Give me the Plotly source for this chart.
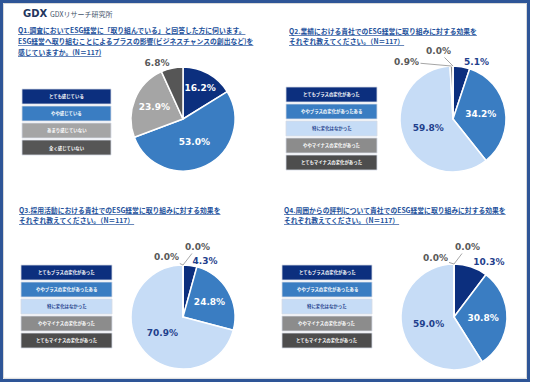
import math
import plotly.graph_objects as go

W, H = 536, 382

# ---------------- data ----------------
q1_labels = ["とても感じている", "やや感じている", "あまり感じていない", "全く感じていない"]
q1_values = [16.2, 53.0, 23.9, 6.8]

effect_labels = ["とてもプラスの変化があった", "ややプラスの変化があったある", "特に変化はなかった",
                 "ややマイナスの変化があった", "とてもマイナスの変化があった"]
q2_values = [5.1, 34.2, 59.8, 0.9, 0.0]
q3_values = [4.3, 24.8, 70.9, 0.0, 0.0]
q4_values = [10.3, 30.8, 59.0, 0.0, 0.0]

q1_title = ["Q1.調査においてESG経営に「取り組んでいる」と回答した方に伺います。",
            "ESG経営へ取り組むことによるプラスの影響(ビジネスチャンスの創出など)を",
            "感じていますか。(N＝117)"]
q2_title = ["Q2.業績における貴社でのESG経営に取り組みに対する効果を",
            "それぞれ教えてください。（N＝117）"]
q3_title = ["Q3.採用活動における貴社でのESG経営に取り組みに対する効果を",
            "それぞれ教えてください。（N＝117）"]
q4_title = ["Q4.周囲からの評判について貴社でのESG経営に取り組みに対する効果を",
            "それぞれ教えてください。（N＝117）"]

# ---------------- styles ----------------
NAVY = "#0c2f7e"
BLUE = "#3a7dc2"
LIGHT = "#c6dcf6"
GRAY_A = "#a5a5a5"
GRAY_B = "#8c8c8c"
DARK = "#565656"
TXT_NAVY = "#1f3f8c"
TXT_GRAY = "#595959"
TITLE_C = "#22509b"
FRAME = "#2e5597"

q1_colors = [NAVY, BLUE, GRAY_A, DARK]
eff_colors = [NAVY, BLUE, LIGHT, GRAY_B, "#4d4d4d"]

LABEL_FONT = "DejaVu Sans"
JP_FONT = "Noto Sans CJK JP"


def px(x):
    return x / W


def py(y):
    return 1 - y / H


panels = [
    dict(labels=q1_labels, values=q1_values, colors=q1_colors, title=q1_title,
         cx=183, cy=119, r=52, tx=16, ty=[30, 41, 52],
         lx=22, lw=89, ly=89, offs={}),
    dict(labels=effect_labels, values=q2_values, colors=eff_colors, title=q2_title,
         cx=453, cy=119, r=53, tx=287, ty=[31, 41],
         lx=286, lw=91, ly=87, offs={3: (-45, -4), 4: (-15, -15)}),
    dict(labels=effect_labels, values=q3_values, colors=eff_colors, title=q3_title,
         cx=183, cy=317, r=52, tx=17, ty=[210, 220],
         lx=21, lw=91, ly=265, offs={3: (-17, -8), 4: (14, -18)}),
    dict(labels=effect_labels, values=q4_values, colors=eff_colors, title=q4_title,
         cx=454, cy=317, r=53, tx=282, ty=[210, 220],
         lx=282, lw=90, ly=265, offs={3: (-19, -6), 4: (13, -17)}),
]

fig = go.Figure()
shapes = []
annotations = []


def text_color_for(col, inside):
    if inside:
        return TXT_NAVY if col == LIGHT else "white"
    return TXT_NAVY if col == NAVY else TXT_GRAY


for p in panels:
    vals = p["values"]
    cols = p["colors"]
    positions, tcolors = [], []
    for v, c in zip(vals, cols):
        if v < 1:
            positions.append("none")
            tcolors.append(TXT_GRAY)
        elif v < 11:
            positions.append("outside")
            tcolors.append(text_color_for(c, False))
        else:
            positions.append("inside")
            tcolors.append(text_color_for(c, True))
    cx, cy, r = p["cx"], p["cy"], p["r"]
    fig.add_trace(go.Pie(
        labels=p["labels"], values=vals, sort=False, direction="clockwise", rotation=0,
        marker=dict(colors=cols, line=dict(color="white", width=1.5)),
        texttemplate="%{value:.1f}%", textposition=positions,
        insidetextorientation="horizontal",
        textfont=dict(family=LABEL_FONT, size=9, color=tcolors, weight="bold"),
        domain=dict(x=[px(cx - r), px(cx + r)], y=[py(cy + r), py(cy - r)]),
        showlegend=False, hoverinfo="label+value",
    ))
    # labels for tiny slices with leader lines
    total = sum(vals)
    cum = 0
    for i, v in enumerate(vals):
        mid = cum + v / 2
        cum += v
        if v < 1:
            th = 2 * math.pi * mid / total
            ex = cx + r * math.sin(th)
            ey = cy - r * math.cos(th)
            ax, ay = p["offs"].get(i, (-15, -15))
            annotations.append(dict(
                x=px(ex), y=py(ey), xref="paper", yref="paper",
                text=f"{v:.1f}%", showarrow=True, arrowhead=0, arrowwidth=1,
                arrowcolor="#a6a6a6", ax=ax, ay=ay, standoff=0,
                xanchor="center", yanchor="middle",
                font=dict(family=LABEL_FONT, size=9, color=TXT_GRAY, weight="bold"),
            ))
    # title lines
    for line, yy in zip(p["title"], p["ty"]):
        annotations.append(dict(
            x=px(p["tx"]), y=py(yy), xref="paper", yref="paper", xanchor="left",
            yanchor="middle", showarrow=False, text=f"<u>{line}</u>",
            font=dict(family=JP_FONT, size=6.8, color=TITLE_C, weight="bold"),
        ))
    # legend boxes
    for k, (lab, c) in enumerate(zip(p["labels"], cols)):
        y0 = p["ly"] + k * 17
        y1 = y0 + 15
        shapes.append(dict(type="rect", xref="paper", yref="paper",
                           x0=px(p["lx"]), x1=px(p["lx"] + p["lw"]), y0=py(y1), y1=py(y0),
                           fillcolor=c, line=dict(color="#d5dbe6", width=0.8)))
        annotations.append(dict(
            x=px(p["lx"] + p["lw"] / 2), y=py((y0 + y1) / 2), xref="paper", yref="paper",
            xanchor="center", yanchor="middle", showarrow=False, text=lab,
            font=dict(family=JP_FONT, size=4.4, color=TXT_NAVY if c == LIGHT else "white",
                      weight="bold"),
        ))

# logo
annotations.append(dict(x=px(21), y=py(14), xref="paper", yref="paper", xanchor="left",
                        yanchor="middle", showarrow=False, text="<b>GDX</b>",
                        font=dict(family="DejaVu Sans", size=10, color="#23365e")))
annotations.append(dict(x=px(48), y=py(14), xref="paper", yref="paper", xanchor="left",
                        yanchor="middle", showarrow=False, text="GDXリサーチ研究所",
                        font=dict(family=JP_FONT, size=7, color="#44546a")))

# frame
shapes.append(dict(type="rect", xref="paper", yref="paper", x0=px(1.5), x1=px(528.5),
                   y0=py(380.5), y1=py(1.5), line=dict(color=FRAME, width=3)))
shapes.append(dict(type="rect", xref="paper", yref="paper", x0=px(3.5), x1=px(526.5),
                   y0=py(378.3), y1=py(3.5), line=dict(color="#c8c8c8", width=0.7)))

fig.update_layout(
    width=W, height=H, margin=dict(l=0, r=0, t=0, b=0),
    paper_bgcolor="white", plot_bgcolor="white",
    shapes=shapes, annotations=annotations,
)

fig.write_html("out.html", config={"displayModeBar": False},
               post_script="document.body.style.margin='0';document.body.style.padding='0';"
                           "document.body.style.overflow='hidden';")
